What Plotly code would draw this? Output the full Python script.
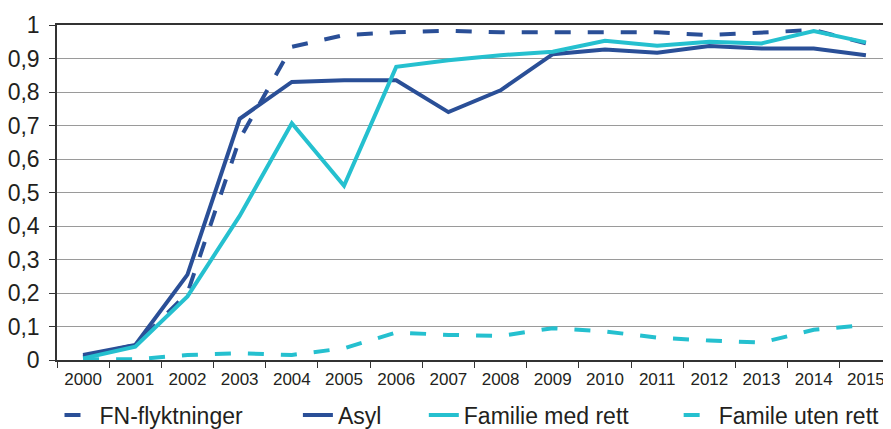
import plotly.graph_objects as go

years = [str(y) for y in range(2000, 2016)]

fn_flyktninger = [0.01, 0.045, 0.20, 0.66, 0.935, 0.97, 0.978, 0.983, 0.978, 0.978,
                  0.978, 0.978, 0.97, 0.978, 0.985, 0.945]
asyl = [0.015, 0.045, 0.255, 0.72, 0.83, 0.835, 0.835, 0.74, 0.805, 0.913,
        0.927, 0.917, 0.937, 0.93, 0.93, 0.91]
familie_med_rett = [0.005, 0.04, 0.19, 0.43, 0.707, 0.52, 0.875, 0.895, 0.91, 0.92,
                    0.953, 0.938, 0.95, 0.945, 0.982, 0.948]
familie_uten_rett = [0.002, 0.002, 0.015, 0.02, 0.015, 0.035, 0.082, 0.075, 0.072, 0.095,
                     0.085, 0.067, 0.058, 0.052, 0.09, 0.105]

y_ticks = [0, 0.1, 0.2, 0.3, 0.4, 0.5, 0.6, 0.7, 0.8, 0.9, 1]
y_labels = ["0", "0,1", "0,2", "0,3", "0,4", "0,5", "0,6", "0,7", "0,8", "0,9", "1"]

DARK = "#2A4F97"
CYAN = "#25C0CF"
DASH = "16px,17px"

fig = go.Figure()
fig.add_trace(go.Scatter(x=years, y=fn_flyktninger, mode="lines", name="FN-flyktninger",
                         line=dict(color=DARK, width=4, dash=DASH), legend="legend"))
fig.add_trace(go.Scatter(x=years, y=asyl, mode="lines", name="Asyl",
                         line=dict(color=DARK, width=4), legend="legend2"))
fig.add_trace(go.Scatter(x=years, y=familie_med_rett, mode="lines", name="Familie med rett",
                         line=dict(color=CYAN, width=4), legend="legend3"))
fig.add_trace(go.Scatter(x=years, y=familie_uten_rett, mode="lines", name="Famile uten rett",
                         line=dict(color=CYAN, width=4, dash=DASH), legend="legend4"))

# the page body adds an 8px offset, so the margins are shifted to compensate
leg_common = dict(orientation="h", xanchor="left", y=-0.164, yanchor="middle",
                  font=dict(size=23), bgcolor="rgba(0,0,0,0)")

fig.update_layout(
    width=891,
    height=429,
    margin=dict(l=49, r=6.5, t=17, b=77, autoexpand=False),
    paper_bgcolor="white",
    plot_bgcolor="white",
    font=dict(family="Liberation Sans, Arial, sans-serif", color="#231F20"),
    showlegend=True,
    legend=dict(x=0.003, **leg_common),
    legend2=dict(x=0.2885, **leg_common),
    legend3=dict(x=0.4393, **leg_common),
    legend4=dict(x=0.7445, **leg_common),
    xaxis=dict(type="category", range=[-0.5, 15.5], showgrid=False, showline=True,
               linecolor="#333333", linewidth=1.5, mirror=True, ticks="outside",
               tickson="boundaries", ticklen=6, tickcolor="#333333",
               tickfont=dict(size=17), ticklabelstandoff=3, automargin=False),
    yaxis=dict(range=[0, 1], tickvals=y_ticks, ticktext=y_labels, showgrid=True,
               gridcolor="#9A9A9A", gridwidth=1.3, showline=True, linecolor="#333333",
               linewidth=1.5, ticks="outside", ticklen=6, tickcolor="#333333",
               tickfont=dict(size=23), ticklabelstandoff=5, zeroline=False,
               automargin=False),
)

fig.write_html("out.html")
